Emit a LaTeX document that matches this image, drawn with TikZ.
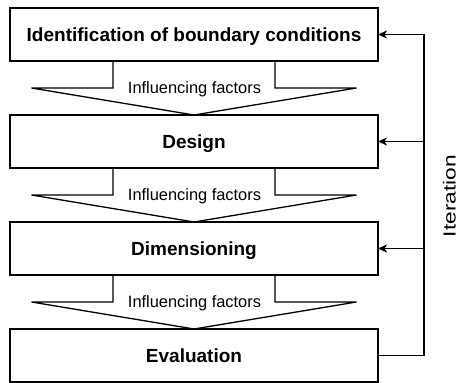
\documentclass[tikz,border=0pt]{standalone}
\usepackage{fontspec}
\setmainfont{Liberation Sans}
\usetikzlibrary{calc,arrows.meta}

\tikzset{
  stepbox/.style={draw, line width=1.3pt, minimum width=368pt, minimum height=53pt,
    inner sep=0pt, outer sep=0pt, text height=13.6pt, text depth=0pt,
    font=\fontsize{19}{22}\selectfont\bfseries},
  funnel/.style={draw, line width=1.3pt, line join=miter},
  factorlabel/.style={font=\fontsize{16.4}{19}\selectfont, inner sep=0pt, anchor=base},
  feedback/.style={draw, line width=1.3pt},
  feedarrow/.style={feedback, -{Stealth[length=9pt, width=8pt, inset=2.5pt]}},
}

\begin{document}
\begin{tikzpicture}[x=1pt, y=-1pt]
  \useasboundingbox (0,0) rectangle (459,383);

  % process steps
  \node[stepbox] (b1) at (194,34.5)  {Identification of boundary conditions};
  \node[stepbox] (b2) at (194,141.5) {Design};
  \node[stepbox] (b3) at (194,248.5) {Dimensioning};
  \node[stepbox] (b4) at (194,355.5) {Evaluation};

  % funnel-shaped transitions carrying the influencing factors
  \foreach \a/\b/\n in {b1/b2/1, b2/b3/2, b3/b4/3} {
    \draw[funnel] ($(\a.south)+(-81,0)$) -- ($(\a.south)+(-81,27)$)
      -- ($(\a.south)+(-162.5,27)$) -- (\b.north)
      -- ($(\a.south)+(162.5,27)$) -- ($(\a.south)+(81,27)$)
      -- ($(\a.south)+(81,0)$);
    \node[factorlabel] (f\n) at ($(\a.south)+(0.5,32.3)$) {Influencing factors};
  }

  % iteration loop back to the earlier steps
  \coordinate (rail) at (424,0);
  \draw[feedarrow] (b4.east) -| (rail |- b1.east) -- (b1.east);
  \draw[feedarrow] (rail |- b2.east) -- (b2.east);
  \draw[feedarrow] (rail |- b3.east) -- (b3.east);

  \node[rotate=90, anchor=base, inner sep=0pt, font=\fontsize{17.5}{20}\selectfont]
    (iter) at (455.5,196) {\scalebox{1.3}[1]{Iteration}};
\end{tikzpicture}
\end{document}
